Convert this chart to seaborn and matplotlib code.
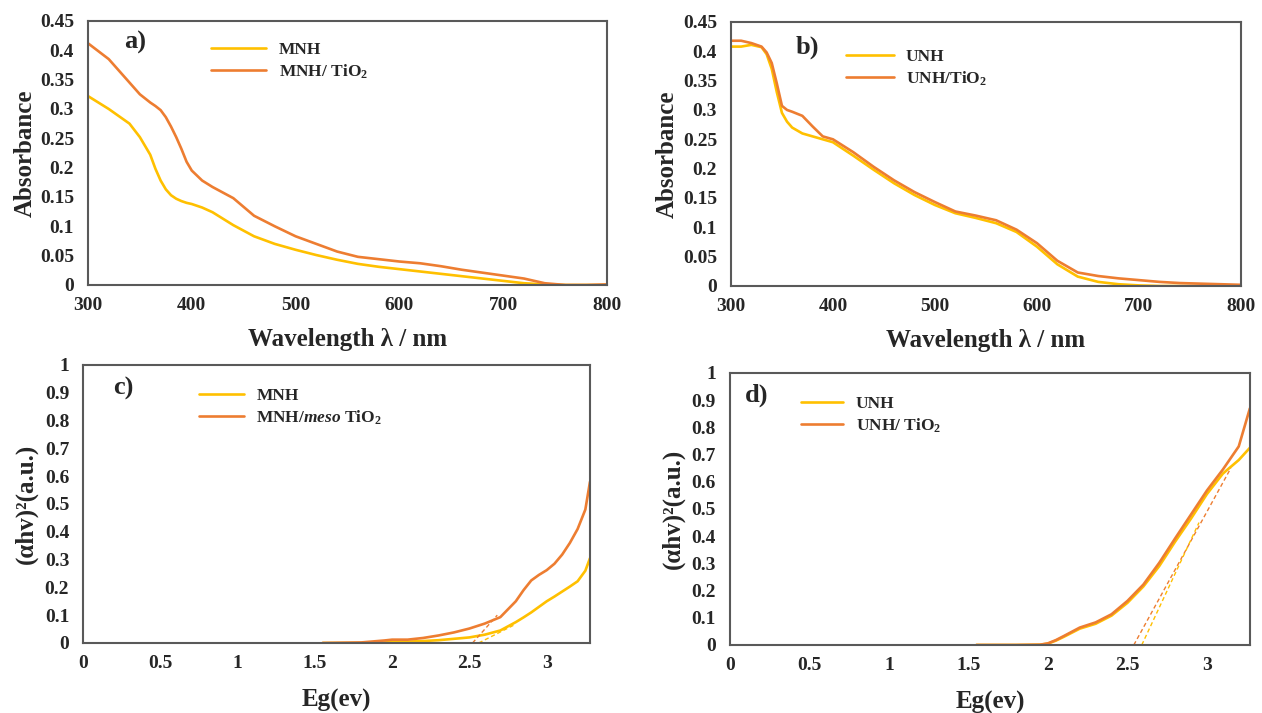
import numpy as np
import pandas as pd
import matplotlib
matplotlib.use("Agg")
import matplotlib.pyplot as plt
from matplotlib.ticker import FuncFormatter, MultipleLocator
import seaborn as sns

# ------ DATA ------
# panel a) absorbance, MNH vs MNH/TiO2
wl_a = [300, 320, 340, 350, 360, 365, 370, 375, 380, 385, 390, 395, 400, 410, 420, 440, 460,
        480, 500, 520, 540, 560, 580, 600, 620, 640, 660, 680, 700, 720, 740, 760, 780, 800]
mnh_a = [0.322, 0.300, 0.275, 0.252, 0.222, 0.198, 0.178, 0.163, 0.153, 0.147, 0.143, 0.140,
         0.138, 0.132, 0.124, 0.102, 0.083, 0.070, 0.060, 0.051, 0.043, 0.036, 0.031, 0.027,
         0.023, 0.019, 0.015, 0.011, 0.007, 0.003, 0.001, 0.0, 0.0, 0.0]
mnh_tio2_a = [0.412, 0.385, 0.345, 0.325, 0.311, 0.305, 0.298, 0.286, 0.270, 0.252, 0.232,
              0.210, 0.195, 0.178, 0.167, 0.148, 0.118, 0.100, 0.083, 0.070, 0.057, 0.048,
              0.044, 0.040, 0.037, 0.032, 0.026, 0.021, 0.016, 0.011, 0.003, 0.0, 0.0, 0.001]

# panel b) absorbance, UNH vs UNH/TiO2
wl_b = [300, 310, 320, 330, 335, 340, 345, 350, 355, 360, 370, 380, 390, 400, 420, 440, 460,
        480, 500, 520, 540, 560, 580, 600, 620, 640, 660, 680, 700, 720, 740, 760, 780, 800]
unh_b = [0.408, 0.408, 0.411, 0.407, 0.395, 0.370, 0.330, 0.295, 0.280, 0.270, 0.260, 0.255,
         0.250, 0.245, 0.222, 0.198, 0.175, 0.155, 0.138, 0.124, 0.116, 0.107, 0.092, 0.067,
         0.037, 0.016, 0.007, 0.003, 0.001, 0.0, 0.0, 0.0, 0.0, 0.0]
unh_tio2_b = [0.418, 0.418, 0.414, 0.408, 0.398, 0.380, 0.345, 0.307, 0.300, 0.297, 0.290,
              0.272, 0.255, 0.250, 0.228, 0.203, 0.180, 0.160, 0.143, 0.127, 0.120, 0.112,
              0.096, 0.073, 0.043, 0.023, 0.017, 0.013, 0.010, 0.007, 0.005, 0.004, 0.003, 0.002]

# panel c) Tauc plot, MNH vs MNH/meso TiO2
eg_c = [1.55, 1.8, 1.95, 2.0, 2.1, 2.2, 2.3, 2.4, 2.5, 2.6, 2.7, 2.8, 2.85, 2.9, 2.95, 3.0,
        3.05, 3.1, 3.15, 3.2, 3.25, 3.28]
mnh_c = [0.0, 0.0, 0.002, 0.003, 0.005, 0.007, 0.010, 0.015, 0.020, 0.030, 0.045, 0.075, 0.092,
         0.110, 0.130, 0.150, 0.167, 0.185, 0.203, 0.222, 0.260, 0.305]
mnh_tio2_c = [0.0, 0.002, 0.009, 0.012, 0.012, 0.018, 0.027, 0.038, 0.052, 0.070, 0.093, 0.150,
              0.190, 0.225, 0.245, 0.262, 0.285, 0.318, 0.360, 0.410, 0.480, 0.580]
tan_c_x = [2.52, 2.68]
tan_c_y = [0.0, 0.10]
tan_c_x2 = [2.56, 2.79]
tan_c_y2 = [0.0, 0.065]

# panel d) Tauc plot, UNH vs UNH/TiO2
eg_d = [1.55, 1.8, 1.95, 2.0, 2.05, 2.1, 2.2, 2.3, 2.4, 2.5, 2.6, 2.7, 2.8, 2.9, 3.0, 3.1,
        3.2, 3.27]
unh_d = [0.0, 0.0, 0.001, 0.005, 0.016, 0.030, 0.060, 0.078, 0.108, 0.155, 0.215, 0.290,
         0.380, 0.465, 0.555, 0.630, 0.680, 0.725]
unh_tio2_d = [0.0, 0.0, 0.001, 0.006, 0.018, 0.033, 0.064, 0.083, 0.113, 0.162, 0.222, 0.302,
              0.392, 0.480, 0.568, 0.645, 0.730, 0.870]
tan_d_x = [2.54, 3.15]
tan_d_y = [0.0, 0.65]
tan_d_x2 = [2.59, 2.95]
tan_d_y2 = [0.0, 0.45]

YELLOW = "#FFC000"
ORANGE = "#ED7D31"

# ------ STYLE ------
sns.set_style("white")
plt.rcParams['font.family'] = ['Liberation Serif', 'DejaVu Serif']
plt.rcParams['font.weight'] = 'bold'
plt.rcParams['mathtext.fontset'] = 'custom'
plt.rcParams['mathtext.rm'] = 'Liberation Serif:bold'
plt.rcParams['mathtext.it'] = 'Liberation Serif:italic:bold'
plt.rcParams['mathtext.bf'] = 'Liberation Serif:bold'

fig = plt.figure(figsize=(12.62, 7.13), dpi=100)
ax_a = fig.add_axes([0.0697, 0.6003, 0.4113, 0.3703])
ax_b = fig.add_axes([0.5792, 0.5989, 0.4041, 0.3703])
ax_c = fig.add_axes([0.0658, 0.0982, 0.4017, 0.3899])
ax_d = fig.add_axes([0.5784, 0.0954, 0.4120, 0.3815])

fmt = FuncFormatter(lambda v, p: "%g" % round(v, 3))


def style_axes(ax, xlim, ylim, xstep, ystep):
    ax.set_xlim(*xlim)
    ax.set_ylim(*ylim)
    ax.xaxis.set_major_locator(MultipleLocator(xstep))
    ax.yaxis.set_major_locator(MultipleLocator(ystep))
    ax.xaxis.set_major_formatter(fmt)
    ax.yaxis.set_major_formatter(fmt)
    ax.tick_params(axis='x', length=0, labelsize=14, pad=9)
    ax.tick_params(axis='y', length=0, labelsize=14, pad=10)
    for lab in ax.get_xticklabels() + ax.get_yticklabels():
        lab.set_fontweight('bold')
    for s in ax.spines.values():
        s.set_color("#595959")
        s.set_linewidth(1.5)


def draw(ax, x, y1, y2, lab1, lab2, legx, legy, hl):
    sns.lineplot(x=x, y=y1, ax=ax, color=YELLOW, lw=1.9, label=lab1)
    sns.lineplot(x=x, y=y2, ax=ax, color=ORANGE, lw=1.9, label=lab2)
    ax.legend(loc="upper left", bbox_to_anchor=(legx, legy), frameon=False,
              prop={'family': 'Liberation Serif', 'weight': 'bold', 'size': 12.5},
              handlelength=hl, handletextpad=0.7, labelspacing=0.25, borderaxespad=0)


# ------ PANEL a ------
draw(ax_a, wl_a, mnh_a, mnh_tio2_a, "MNH", "MNH/ TiO$_2$", 0.2235, 0.947, 3.2)
style_axes(ax_a, (300, 800), (0, 0.45), 100, 0.05)
ax_a.set_xlabel("Wavelength λ / nm", fontsize=18, fontweight='bold', labelpad=10)
ax_a.set_ylabel("Absorbance", fontsize=18, fontweight='bold', labelpad=2)
ax_a.text(0.069, 0.917, "a)", transform=ax_a.transAxes, fontsize=19, fontweight='bold', va='center')

# ------ PANEL b ------
draw(ax_b, wl_b, unh_b, unh_tio2_b, "UNH", "UNH/TiO$_2$", 0.212, 0.924, 2.75)
style_axes(ax_b, (300, 800), (0, 0.45), 100, 0.05)
ax_b.set_xlabel("Wavelength λ / nm", fontsize=18, fontweight='bold', labelpad=10)
ax_b.set_ylabel("Absorbance", fontsize=18, fontweight='bold', labelpad=3)
ax_b.text(0.127, 0.905, "b)", transform=ax_b.transAxes, fontsize=19, fontweight='bold', va='center')

# ------ PANEL c ------
draw(ax_c, eg_c, mnh_c, mnh_tio2_c, "MNH", "MNH/$\\it{meso}$ TiO$_2$", 0.215, 0.942, 2.6)
sns.lineplot(x=tan_c_x, y=tan_c_y, ax=ax_c, color=ORANGE, lw=1, legend=False)
ax_c.lines[-1].set_dashes((3, 2))
sns.lineplot(x=tan_c_x2, y=tan_c_y2, ax=ax_c, color=YELLOW, lw=1, legend=False)
ax_c.lines[-1].set_dashes((3, 2))
style_axes(ax_c, (0, 3.28), (0, 1), 0.5, 0.1)
ax_c.set_xlabel("Eg(ev)", fontsize=18, fontweight='bold', labelpad=12)
ax_c.set_ylabel("(αhv)²(a.u.)", fontsize=18, fontweight='bold', labelpad=5)
ax_c.text(0.059, 0.917, "c)", transform=ax_c.transAxes, fontsize=19, fontweight='bold', va='center')

# ------ PANEL d ------
draw(ax_d, eg_d, unh_d, unh_tio2_d, "UNH", "UNH/ TiO$_2$", 0.123, 0.941, 2.45)
sns.lineplot(x=tan_d_x, y=tan_d_y, ax=ax_d, color=ORANGE, lw=1, legend=False)
ax_d.lines[-1].set_dashes((3, 2))
sns.lineplot(x=tan_d_x2, y=tan_d_y2, ax=ax_d, color=YELLOW, lw=1, legend=False)
ax_d.lines[-1].set_dashes((3, 2))
style_axes(ax_d, (0, 3.27), (0, 1), 0.5, 0.1)
ax_d.set_xlabel("Eg(ev)", fontsize=18, fontweight='bold', labelpad=12)
ax_d.set_ylabel("(αhv)²(a.u.)", fontsize=18, fontweight='bold', labelpad=5)
ax_d.text(0.029, 0.919, "d)", transform=ax_d.transAxes, fontsize=19, fontweight='bold', va='center')

fig.savefig("out.png", dpi=100)
